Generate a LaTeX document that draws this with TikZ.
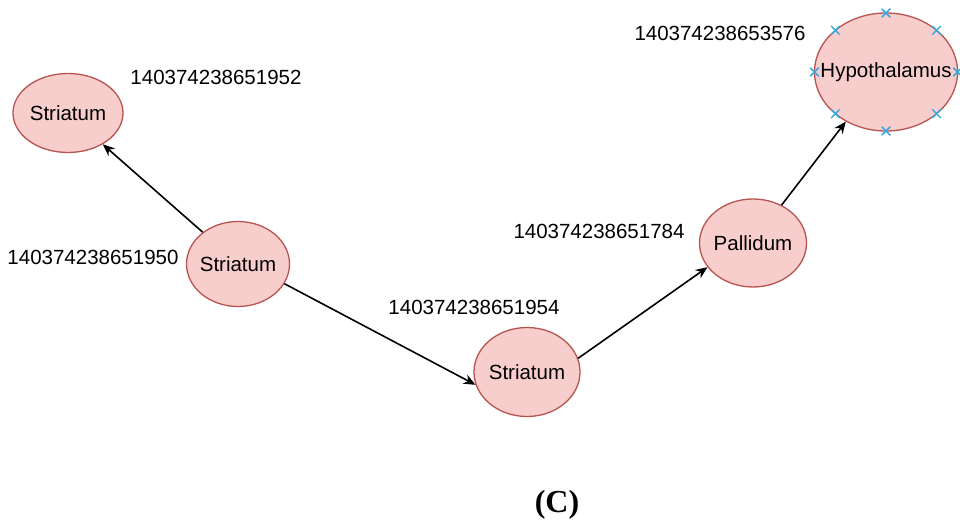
\documentclass[tikz,border=0pt]{standalone}
\usepackage{fontspec}
\setmainfont{Liberation Sans}
\newfontfamily\tagfont{Liberation Serif}
\usetikzlibrary{shapes.geometric,shapes.misc,arrows.meta}
\definecolor{regionfill}{HTML}{F8CECC}
\definecolor{regionline}{HTML}{B85450}
\definecolor{handle}{HTML}{3BA9E0}
\tikzset{
  region/.style={ellipse,draw=regionline,fill=regionfill,line width=1.3pt,inner sep=0pt,font=\fontsize{20.5}{23}\selectfont},
  idlabel/.style={font=\fontsize{20.5}{23}\selectfont},
  link/.style={-{Stealth[length=12pt,width=10pt]},line width=1.6pt},
  handlemark/.style={cross out,draw=handle,line width=1.5pt,minimum size=7pt,inner sep=0pt}
}
\begin{document}
\begin{tikzpicture}[x=1pt,y=-1pt]
\useasboundingbox (0,0) rectangle (960,527);

\node [region,minimum width=110pt,minimum height=79pt] (s1) at (68,113) {\makebox[0pt]{Striatum}};
\node [region,minimum width=103pt,minimum height=85pt] (s2) at (238,264) {\makebox[0pt]{Striatum}};
\node [region,minimum width=106pt,minimum height=89pt] (s3) at (527,372) {\makebox[0pt]{Striatum}};
\node [region,minimum width=107pt,minimum height=88pt] (pa) at (753,243) {\makebox[0pt]{Pallidum}};
\node [region,minimum width=143pt,minimum height=118pt] (hy) at (886,72) {\makebox[0pt]{Hypothalamus}};

\node [idlabel] (l1) at (216,77) {140374238651952};
\node [idlabel] (l2) at (93,257) {140374238651950};
\node [idlabel] (l3) at (474,307) {140374238651954};
\node [idlabel] (l4) at (599,231) {140374238651784};
\node [idlabel] (l5) at (720,33) {140374238653576};

\draw [link] (s2.138) -- (s1.-42);
\draw [link] (s2.-23) -- (s3.194);
\draw [link] (s3.15) -- (pa.208);
\draw [link] (pa.53) -- (hy.231);

% selection handles
\foreach \a in {0,45,...,315}
  \node [handlemark] at ([shift={(\a:71.5 and 59)}]hy.center) {};

\node [font=\tagfont\bfseries\fontsize{32}{36}\selectfont] (cap) at (557,505) {(C)};
\end{tikzpicture}
\end{document}
